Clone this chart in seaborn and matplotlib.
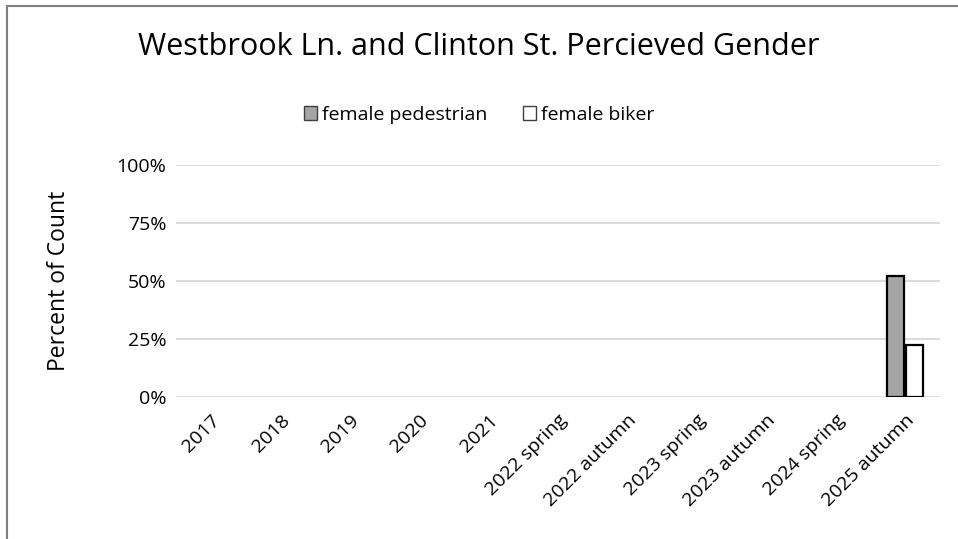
import pandas as pd
import matplotlib.pyplot as plt
import matplotlib.ticker as mticker
from matplotlib.lines import Line2D
import seaborn as sns

# Dados
categorias = ['2017', '2018', '2019', '2020', '2021', '2022 spring', '2022 autumn',
              '2023 spring', '2023 autumn', '2024 spring', '2025 autumn']
female_pedestrian = [None, None, None, None, None, None, None, None, None, None, 0.52]
female_biker = [None, None, None, None, None, None, None, None, None, None, 0.224]

sns.set_theme(style="white")
plt.rcParams['font.family'] = ['Open Sans', 'DejaVu Sans']
plt.rcParams['text.color'] = 'black'
plt.rcParams['axes.labelcolor'] = 'black'

df = pd.DataFrame({
    'periodo': categorias * 2,
    'valor': female_pedestrian + female_biker,
    'serie': ['female pedestrian'] * len(categorias) + ['female biker'] * len(categorias),
}).dropna()

fig = plt.figure(figsize=(9.58, 5.39), dpi=100)
ax = fig.add_axes([0.184, 0.263, 0.797, 0.431])

sns.barplot(
    data=df, x='periodo', y='valor', hue='serie', order=categorias,
    hue_order=['female pedestrian', 'female biker'],
    palette={'female pedestrian': '#a5a5a5', 'female biker': 'white'},
    edgecolor='black', linewidth=1.6, width=0.54, gap=0.1, ax=ax,
)

ax.set_ylim(0, 1)
ax.set_xlim(-0.5, len(categorias) - 0.5)
ax.yaxis.set_major_locator(mticker.MultipleLocator(0.25))
ax.yaxis.set_major_formatter(mticker.PercentFormatter(1.0, decimals=0))
ax.grid(axis='y', color='#d9d9d9', linewidth=1.3)
ax.set_axisbelow(True)
for s in ax.spines.values():
    s.set_visible(False)
ax.tick_params(axis='both', length=0, labelsize=14, colors='black')
ax.tick_params(axis='y', pad=7)
ax.tick_params(axis='x', pad=10)
plt.setp(ax.get_xticklabels(), rotation=45, ha='right', rotation_mode='anchor')
ax.set_xlabel('')
ax.set_ylabel('Percent of Count', fontsize=16.5, labelpad=33, color='black')

fig.text(0.5, 0.912, 'Westbrook Ln. and Clinton St. Percieved Gender',
         ha='center', va='center', fontsize=22, color='black')

leg = ax.legend(loc='center', bbox_to_anchor=(0.5, 0.787), bbox_transform=fig.transFigure,
                ncol=2, frameon=False, fontsize=14, handlelength=0.7, handleheight=0.7,
                handletextpad=0.25, columnspacing=1.8, labelcolor='black')
for h in leg.legend_handles:
    h.set_linewidth(1.0)
    h.set_edgecolor('#404040')

# Borda do gráfico (apenas topo e esquerda visíveis)
fig.add_artist(Line2D([0.007, 1.0], [0.988, 0.988], color='#7f7f7f', linewidth=1.5,
                      transform=fig.transFigure))
fig.add_artist(Line2D([0.007, 0.007], [0.0, 0.988], color='#7f7f7f', linewidth=1.5,
                      transform=fig.transFigure))

fig.savefig('out.png', dpi=100)
